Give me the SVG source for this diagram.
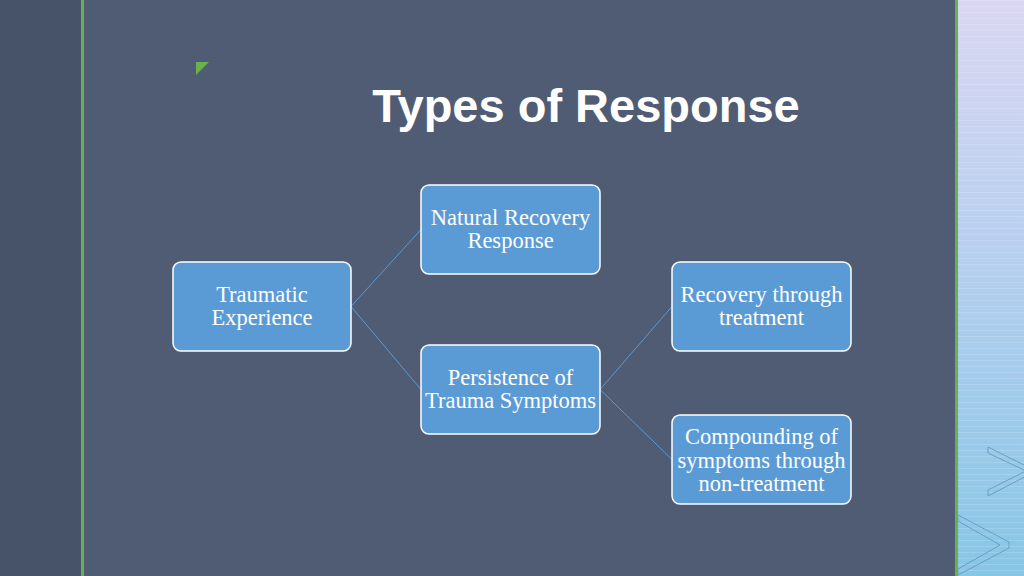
<svg xmlns="http://www.w3.org/2000/svg" width="1024" height="576" viewBox="0 0 1024 576">
  <defs>
    <linearGradient id="panel" x1="0" y1="0" x2="0" y2="1">
      <stop offset="0" stop-color="#dad7f2"/>
      <stop offset="0.45" stop-color="#b5cff0"/>
      <stop offset="1" stop-color="#86c6e6"/>
    </linearGradient>
    <pattern id="stripes" width="8" height="6" patternUnits="userSpaceOnUse">
      <rect x="0" y="0" width="8" height="1" fill="#ffffff" opacity="0.15"/>
    </pattern>
  </defs>
  <style>
    .node rect { fill: #5b9bd5; stroke: #ffffff; stroke-width: 1.5; }
    .node text { font-family: "Liberation Serif", "Times New Roman", serif; font-size: 22.5px; fill: #ffffff; text-anchor: middle; }
    .conn line { stroke: #5b9bd5; stroke-width: 1; }
    .chev { fill: none; stroke: #6a9fc2; stroke-width: 1; }
  </style>
  <rect x="0" y="0" width="1024" height="576" fill="#4f5c74"/>
  <rect x="0" y="0" width="81" height="576" fill="#465368"/>
  <rect x="81" y="0" width="3" height="576" fill="#6ab04c"/>
  <rect x="958" y="0" width="66" height="576" fill="url(#panel)"/>
  <rect x="958" y="0" width="66" height="576" fill="url(#stripes)"/>
  <rect x="955" y="0" width="3" height="576" fill="#6ab04c"/>
  <polygon class="chev" points="988,447 1036,471 988,496 988,490 1026,471 988,453"/>
  <polygon class="chev" points="958,515 1009,542 1009,548 958,575 958,569 1000,545 958,521"/>
  <polygon points="196,62 209,62 196,75" fill="#6ab04c"/>
  <text x="586" y="122" font-family="Liberation Sans, Arial, sans-serif" font-size="47" font-weight="bold" fill="#ffffff" text-anchor="middle">Types of Response</text>
  <g id="connectors" class="conn">
    <line x1="351" y1="306.5" x2="421" y2="229.5"/>
    <line x1="351" y1="306.5" x2="421" y2="389.5"/>
    <line x1="600" y1="389.5" x2="672" y2="306.5"/>
    <line x1="600" y1="389.5" x2="672" y2="459.5"/>
  </g>
  <g id="node-traumatic" class="node">
    <rect x="173" y="262" width="178" height="89" rx="8"/>
    <text x="262" y="302">Traumatic</text>
    <text x="262" y="325">Experience</text>
  </g>
  <g id="node-natural" class="node">
    <rect x="421" y="185" width="179" height="89" rx="8"/>
    <text x="510.5" y="225">Natural Recovery</text>
    <text x="510.5" y="248">Response</text>
  </g>
  <g id="node-persistence" class="node">
    <rect x="421" y="345" width="179" height="89" rx="8"/>
    <text x="510.5" y="385">Persistence of</text>
    <text x="510.5" y="408">Trauma Symptoms</text>
  </g>
  <g id="node-recovery" class="node">
    <rect x="672" y="262" width="179" height="89" rx="8"/>
    <text x="761.5" y="302">Recovery through</text>
    <text x="761.5" y="325">treatment</text>
  </g>
  <g id="node-compounding" class="node">
    <rect x="672" y="415" width="179" height="89" rx="8"/>
    <text x="761.5" y="444">Compounding of</text>
    <text x="761.5" y="468">symptoms through</text>
    <text x="761.5" y="491">non-treatment</text>
  </g>
</svg>
